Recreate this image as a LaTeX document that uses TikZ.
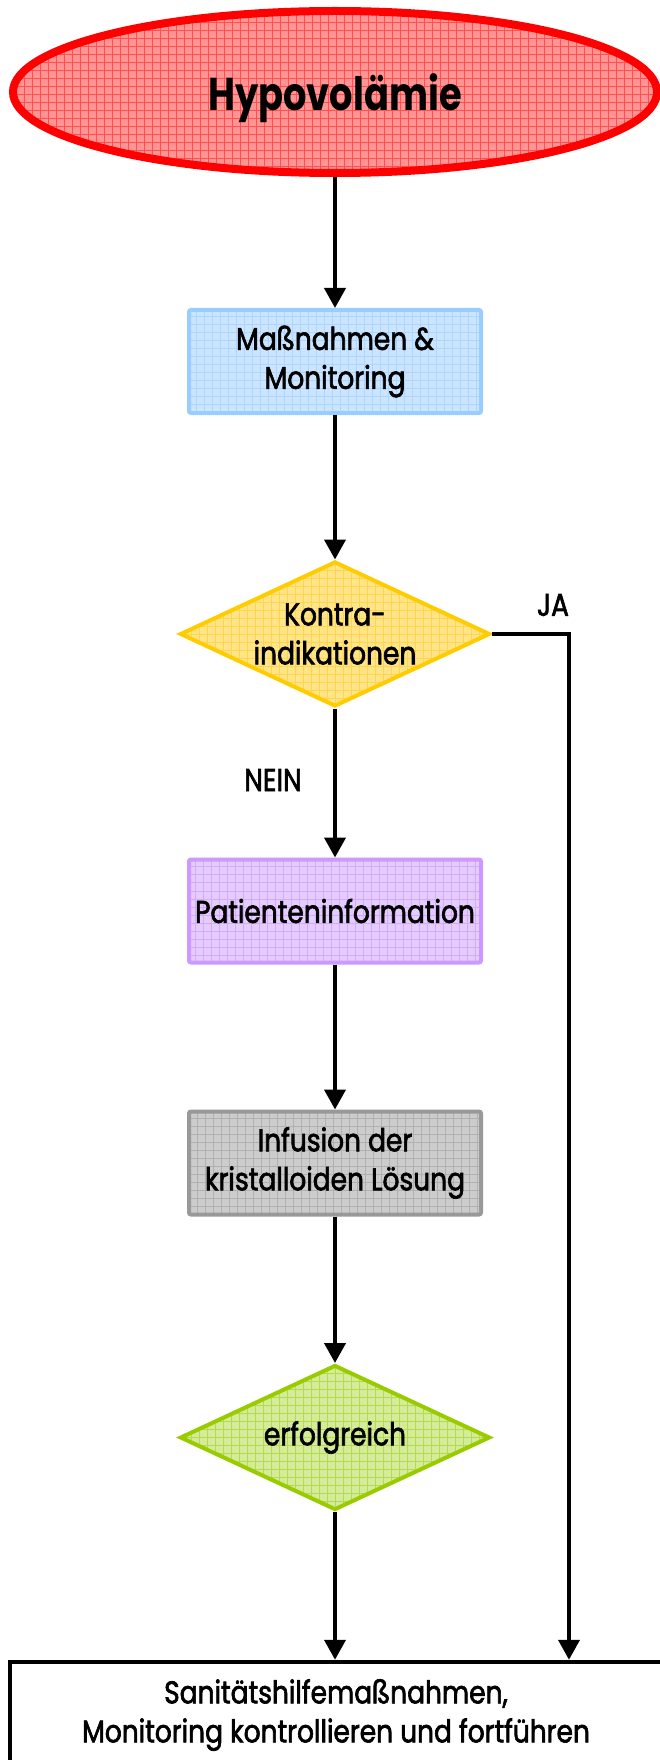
\documentclass[tikz,border=0pt]{standalone}
\usepackage{fontspec}
\setmainfont{Poppins}[FakeStretch=0.8]
\newfontfamily\medfont{Poppins}[FakeStretch=0.84,FakeBold=2]
\usetikzlibrary{shapes.geometric,arrows.meta}
\definecolor{redfill}{HTML}{FF9494}
\definecolor{redgrid}{HTML}{FF5050}
\definecolor{bluefill}{HTML}{CCE5FF}
\definecolor{blueline}{HTML}{99CCFF}
\definecolor{bluegrid}{HTML}{ADD5FF}
\definecolor{yelfill}{HTML}{FFE48A}
\definecolor{yelline}{HTML}{FFCC00}
\definecolor{yelgrid}{HTML}{FFD54A}
\definecolor{purfill}{HTML}{E5CCFF}
\definecolor{purline}{HTML}{CC99FF}
\definecolor{purgrid}{HTML}{D4AAFF}
\definecolor{grayfill}{HTML}{CCCCCC}
\definecolor{grayline}{HTML}{999999}
\definecolor{graygrid}{HTML}{B0B0B0}
\definecolor{grnfill}{HTML}{D4EB9A}
\definecolor{grnline}{HTML}{99CC00}
\definecolor{grngrid}{HTML}{B5D94F}
\begin{document}
\begin{tikzpicture}[x=1pt,y=-1pt,
  txt/.style={font=\medfont\fontsize{31.5}{39}\selectfont, align=center, text=black},
  gridfill/.style 2 args={fill=#1, path picture={\draw[draw=#2, line width=0.8pt] ([xshift=-1pt,yshift=-1pt]path picture bounding box.south west) grid[step=8pt] (path picture bounding box.north east);}},
  boxstyle/.style n args={3}{rectangle, rounded corners=2pt, draw=#2, line width=4pt, gridfill={#1}{#3}, minimum width=292pt, minimum height=103pt, inner sep=0pt, txt},
  diastyle/.style n args={3}{diamond, draw=#2, line width=4pt, gridfill={#1}{#3}, minimum width=310pt, minimum height=145pt, inner sep=0pt, shape aspect=2.1, txt},
  arr/.style={-{Triangle[length=20pt,width=21pt]}, line width=4pt, draw=black},
]
\useasboundingbox (0,0) rectangle (660,1760);
\node[ellipse, draw=red, line width=8pt, gridfill={redfill}{redgrid}, minimum width=644pt, minimum height=162pt, inner sep=0pt, text depth=0pt, font=\fontsize{46}{50}\selectfont\bfseries] (start) at (335,92) {Hypovolämie};
\node[boxstyle={bluefill}{blueline}{bluegrid}] (m1) at (335,361.5) {Maßnahmen \&\\Monitoring};
\node[diastyle={yelfill}{yelline}{yelgrid}] (k) at (335,634) {Kontra-\\indikationen};
\node[boxstyle={purfill}{purline}{purgrid}] (p) at (335,911) {Patienteninformation};
\node[boxstyle={grayfill}{grayline}{graygrid}] (inf) at (335,1163) {Infusion der\\kristalloiden Lösung};
\node[diastyle={grnfill}{grnline}{grngrid}] (erf) at (335,1437.5) {erfolgreich};
\node[rectangle, draw=black, line width=4.5pt, fill=white, minimum width=652pt, minimum height=106pt, inner sep=0pt, txt] (end) at (336,1715) {Sanitätshilfemaßnahmen,\\Monitoring kontrollieren und fortführen};
\node[txt] (ja) at (553,605) {JA};
\node[txt] (nein) at (273,780) {NEIN};
\coordinate (jaturn) at (569,634);
\draw[arr] (start.south) -- (m1.north);
\draw[arr] (m1.south) -- (k.north);
\draw[arr] (k.south) -- (p.north);
\draw[arr] (p.south) -- (inf.north);
\draw[arr] (inf.south) -- (erf.north);
\draw[arr] (erf.south) -- (erf.south |- end.north);
\draw[arr] (k.east) -- (jaturn) -- (jaturn |- end.north);
\end{tikzpicture}
\end{document}
